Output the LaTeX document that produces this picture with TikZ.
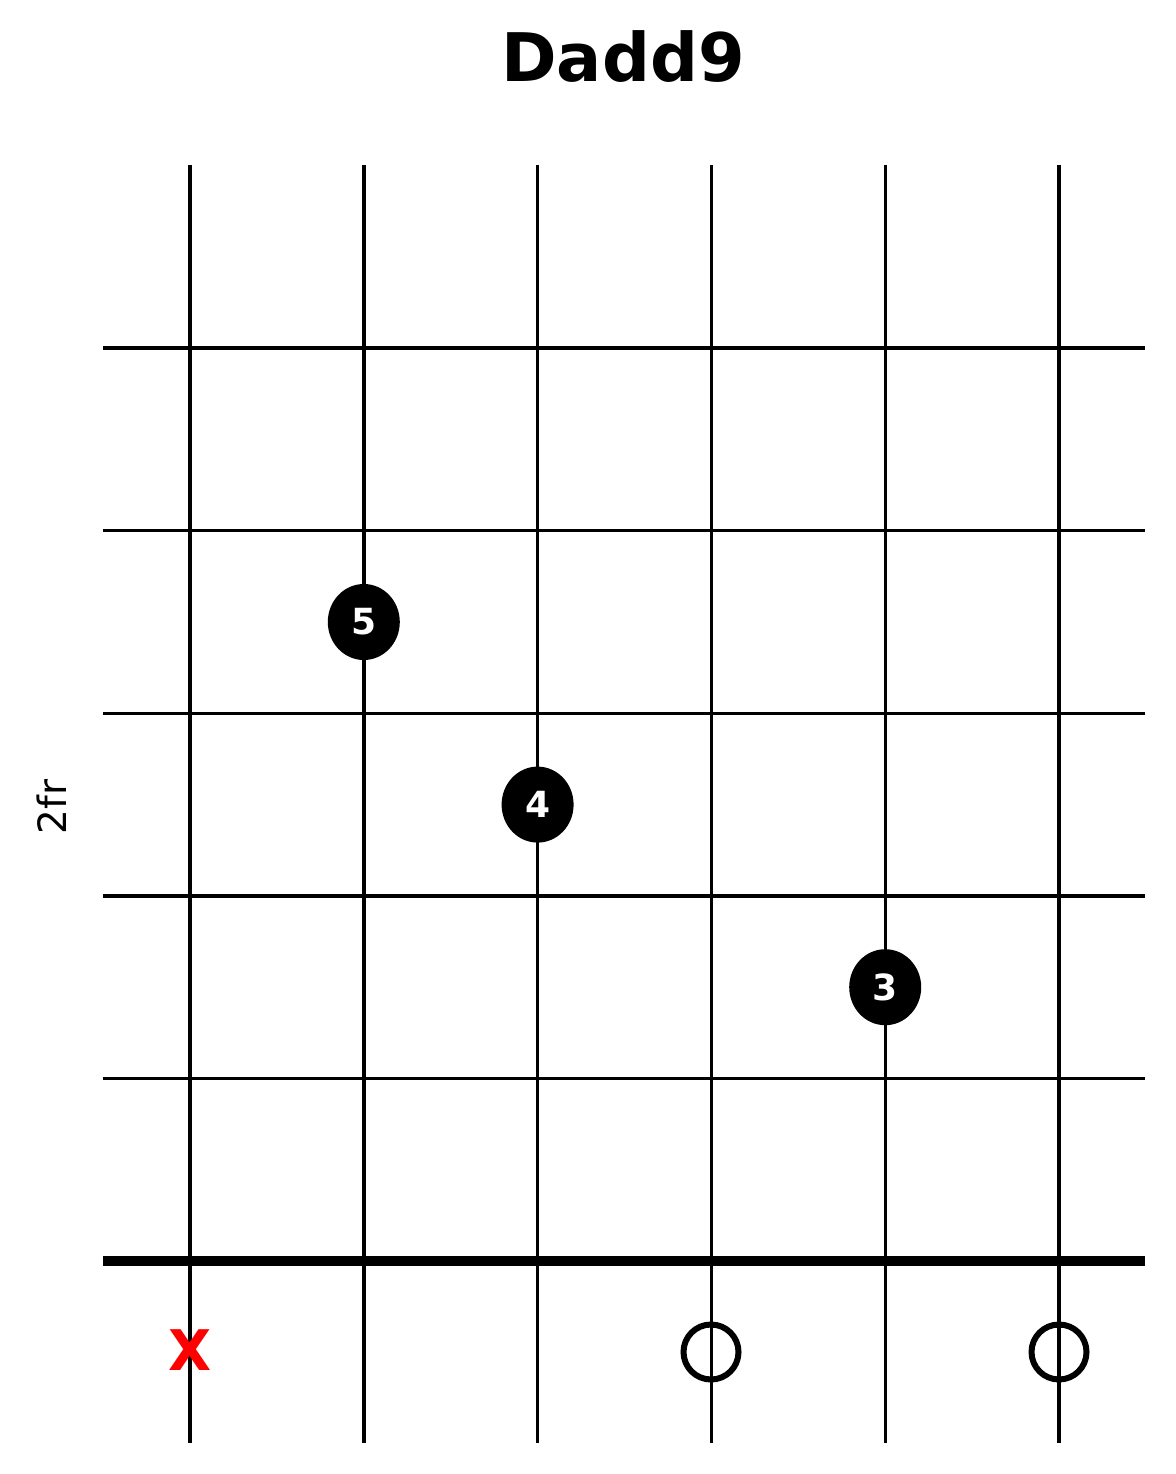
\documentclass[tikz,border=0pt]{standalone}
\usepackage{fontspec}
\setmainfont{DejaVu Sans}
\usetikzlibrary{shapes.geometric}
\tikzset{
  fretline/.style={line width=3.4pt},
  fingerdot/.style={ellipse,fill=black,minimum width=72pt,minimum height=76pt,inner sep=0pt,
    text=white,font=\fontsize{36}{36}\selectfont\bfseries},
  openstr/.style={circle,draw=black,line width=6pt,minimum size=55pt,inner sep=0pt},
  mutestr/.style={text=red,font=\fontsize{56}{56}\selectfont\bfseries,inner sep=0pt}
}
\begin{document}
\begin{tikzpicture}[x=1pt,y=-1pt]
  \useasboundingbox (0,0) rectangle (1175,1474);
  % 标题
  \node[anchor=base,font=\fontsize{67}{67}\selectfont\bfseries] (title) at (623,82) {Dadd9};
  \node[rotate=90,font=\fontsize{39}{39}\selectfont] (pos) at (52,807) {2fr};
  % 弦
  \foreach \s in {0,...,5}
    \draw[fretline] (190+\s*173.8,165) -- (190+\s*173.8,1443);
  % 品格
  \foreach \f in {0,...,4}
    \draw[fretline] (103,348+\f*182.6) -- (1145,348+\f*182.6);
  \draw[line width=10pt] (103,1261) -- (1145,1261);
  % 按弦
  \foreach \s/\f/\n in {1/0/5, 2/1/4, 4/2/3}
    \node[fingerdot] (dot\n) at (190+\s*173.8,622+\f*182.6) {\n};
  % 空弦与闷音
  \node[mutestr] (mute1) at (190,1350) {X};
  \node[openstr] (open4) at (711,1352) {};
  \node[openstr] (open6) at (1059,1352) {};
\end{tikzpicture}
\end{document}
